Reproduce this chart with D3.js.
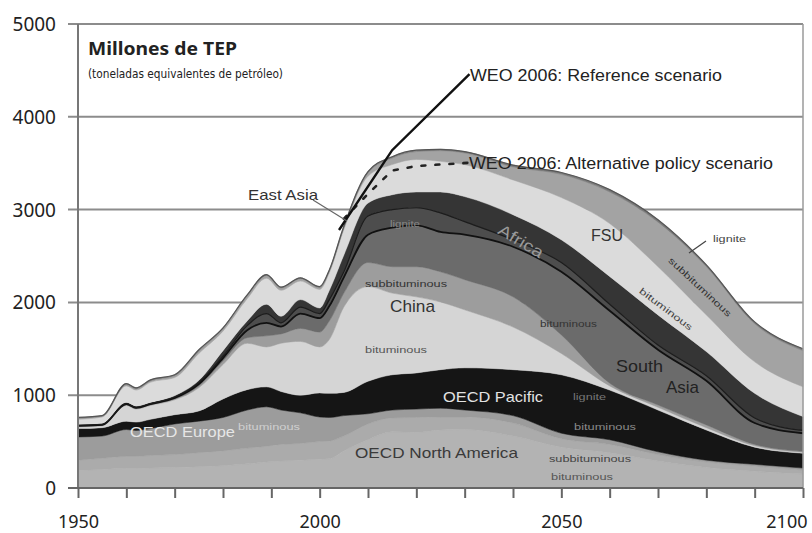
<!DOCTYPE html>
<html>
<head>
<meta charset="utf-8">
<script src="https://cdn.jsdelivr.net/npm/d3@7"></script>
<style>
  body { margin: 0; background: #fff; }
  svg { display: block; font-family: "Liberation Sans", Arial, sans-serif; }
</style>
</head>
<body>
<svg id="chart" width="812" height="533"></svg>
<script>
// years of the readings (history to 2005, projection after)
const years = [1950,1955,1960,1962,1965,1970,1975,1980,1985,1989,1992,1996,2000,2002,2005,2010,2015,2020,2025,2030,2040,2050,2060,2070,2080,2090,2100];

// layers, bottom to top (Mtoe)
const naBit     = [190,200,210,210,215,220,230,240,260,280,290,300,310,315,400,520,605,600,625,630,560,440,380,290,220,180,150];
const naSub     = [110,120,130,130,135,140,150,160,170,170,180,180,190,190,160,170,150,160,140,135,140,90,90,70,60,55,45];
const europe    = [250,240,290,280,290,330,340,360,410,425,370,330,265,255,220,110,85,90,95,75,80,60,50,30,20,20,20];
const pacific   = [90,90,90,90,100,100,110,200,220,215,200,190,260,260,250,350,380,390,415,455,495,630,535,450,325,185,160];
const chinaBit  = [20,20,170,140,150,160,250,370,500,430,520,580,495,580,920,1020,880,820,730,625,460,230,45,30,25,15,10];
const chinaSub  = [5,5,10,10,10,10,20,40,60,120,100,140,160,200,150,260,285,325,325,325,325,200,30,25,30,15,10];
const southAsia = [5,5,5,5,5,10,20,30,80,140,80,160,150,160,170,300,420,445,430,485,540,680,780,595,475,230,195];
const eastAsia  = [5,5,5,5,5,10,15,20,50,100,40,70,50,70,60,200,195,190,205,140,75,100,70,50,55,55,30];
const africa    = [10,10,10,10,10,15,25,60,50,100,70,80,60,100,180,140,160,170,225,270,270,245,300,325,260,265,150];
const fsuBit    = [55,70,180,175,220,195,290,210,240,280,280,200,200,190,275,290,325,350,330,345,375,455,570,520,395,340,320];
const fsuSub    = [12,10,15,15,15,20,25,25,30,30,25,25,20,20,20,35,70,85,115,125,140,250,340,480,520,410,390];
const fsuLig    = [8,5,10,10,10,10,15,10,10,10,10,10,10,10,15,15,15,15,15,15,20,20,25,25,20,20,20];

// WEO 2006 scenarios
const refYears = [2004, 2015, 2031];
const refValues = [2780, 3640, 4460];
const altYears = [2005, 2010, 2015, 2020, 2031];
const altValues = [2900, 3170, 3420, 3470, 3505];

const yTicks = [0, 1000, 2000, 3000, 4000, 5000];
const xTicks = d3.range(1950, 2101, 10);
const xLabels = [1950, 2000, 2050, 2100];

const layers = [
  { key: "naBit", values: naBit, color: "#b3b3b3" },
  { key: "naSub", values: naSub, color: "#ababab" },
  { key: "europe", values: europe, color: "#9c9c9c" },
  { key: "pacific", values: pacific, color: "#151515" },
  { key: "chinaBit", values: chinaBit, color: "#d5d5d5" },
  { key: "chinaSub", values: chinaSub, color: "#9d9d9d" },
  { key: "southAsia", values: southAsia, color: "#6b6b6b" },
  { key: "eastAsia", values: eastAsia, color: "#4d4d4d" },
  { key: "africa", values: africa, color: "#353535" },
  { key: "fsuBit", values: fsuBit, color: "#dbdbdb" },
  { key: "fsuSub", values: fsuSub, color: "#a3a3a3" },
  { key: "fsuLig", values: fsuLig, color: "#7c7c7c" }
];

const table = years.map((yr, i) => {
  const row = { year: yr };
  layers.forEach(l => { row[l.key] = l.values[i]; });
  return row;
});

const svg = d3.select("#chart");
const x = d3.scaleLinear().domain([1950, 2100]).range([78, 803]);
const y = d3.scaleLinear().domain([0, 5000]).range([488, 24]);

// grid
svg.append("g").selectAll("line").data(yTicks.slice(1)).join("line")
  .attr("x1", 68).attr("x2", 803)
  .attr("y1", d => y(d)).attr("y2", d => y(d))
  .attr("stroke", "#8c8c8c").attr("stroke-width", 2);

// stacked areas
const stack = d3.stack().keys(layers.map(l => l.key));
const series = stack(table);

const area = d3.area()
  .x(d => x(d.data.year))
  .y0(d => y(d[0]))
  .y1(d => y(d[1]))
  .curve(d3.curveMonotoneX);

svg.append("g").selectAll("path").data(series).join("path")
  .attr("d", area)
  .attr("fill", (d, i) => layers[i].color)
  .attr("stroke", (d, i) => layers[i].color)
  .attr("stroke-width", 0.5);

const edge = idx => d3.line()
  .x(d => x(d.data.year))
  .y(d => y(d[1]))
  .curve(d3.curveMonotoneX)(series[idx]);

// dark boundary lines
svg.append("path").attr("d", edge(6)).attr("fill", "none").attr("stroke", "#111").attr("stroke-width", 1.8);
svg.append("path").attr("d", edge(7)).attr("fill", "none").attr("stroke", "#1c1c1c").attr("stroke-width", 1.2);
svg.append("path").attr("d", edge(11)).attr("fill", "none").attr("stroke", "#555").attr("stroke-width", 1.2);

// scenarios
const scen = d3.line().x(d => x(d[0])).y(d => y(d[1]));
svg.append("path")
  .attr("d", scen(altYears.map((v, i) => [v, altValues[i]])))
  .attr("fill", "none").attr("stroke", "#222").attr("stroke-width", 2.6)
  .attr("stroke-dasharray", "4,10").attr("stroke-linecap", "round");
svg.append("path")
  .attr("d", scen(refYears.map((v, i) => [v, refValues[i]])))
  .attr("fill", "none").attr("stroke", "#111").attr("stroke-width", 2.4);

// leader lines
svg.append("line").attr("x1", 313).attr("y1", 200).attr("x2", 347).attr("y2", 221)
  .attr("stroke", "#666").attr("stroke-width", 1.2);
svg.append("line").attr("x1", 689).attr("y1", 253).attr("x2", 706).attr("y2", 241)
  .attr("stroke", "#444").attr("stroke-width", 1.2);

// in-chart labels
const labels = [
  { t: "WEO 2006: Reference scenario", x: 470, y: 81, s: 16, len: 252, c: "#222" },
  { t: "WEO 2006: Alternative policy scenario", x: 469, y: 169, s: 16, len: 304, c: "#222" },
  { t: "East Asia", x: 248, y: 200, s: 15, len: 70, c: "#333" },
  { t: "lignite", x: 390, y: 227, s: 9, len: 30, c: "#888" },
  { t: "FSU", x: 591, y: 241, s: 16, len: 32, c: "#333" },
  { t: "lignite", x: 713, y: 242, s: 9, len: 33, c: "#444" },
  { t: "subbituminous", x: 365, y: 287, s: 9, len: 82, c: "#333" },
  { t: "China", x: 390, y: 312, s: 17, len: 45, c: "#333" },
  { t: "bituminous", x: 365, y: 353, s: 9, len: 62, c: "#555" },
  { t: "bituminous", x: 540, y: 327, s: 9, len: 57, c: "#333" },
  { t: "South", x: 616, y: 372, s: 17, len: 47, c: "#222" },
  { t: "Asia", x: 666, y: 393, s: 17, len: 33, c: "#222" },
  { t: "OECD Pacific", x: 443, y: 402, s: 15, len: 100, c: "#e2e2e2" },
  { t: "lignite", x: 573, y: 400, s: 9, len: 33, c: "#777" },
  { t: "bituminous", x: 574, y: 430, s: 9, len: 62, c: "#8a8a8a" },
  { t: "OECD North America", x: 355, y: 458, s: 15, len: 163, c: "#3a3a3a" },
  { t: "subbituminous", x: 549, y: 462, s: 9, len: 82, c: "#444" },
  { t: "bituminous", x: 551, y: 480, s: 9, len: 62, c: "#555" },
  { t: "OECD Europe", x: 130, y: 437, s: 15, len: 105, c: "#e6e6e6" },
  { t: "bituminous", x: 238, y: 430, s: 9, len: 62, c: "#d0d0d0" }
];
svg.append("g").selectAll("text").data(labels).join("text")
  .attr("x", d => d.x).attr("y", d => d.y)
  .attr("font-size", d => d.s).attr("fill", d => d.c)
  .attr("textLength", d => d.len).attr("lengthAdjust", "spacingAndGlyphs")
  .text(d => d.t);

// rotated labels
const rotLabels = [
  { t: "Africa", cx: 521, cy: 241, a: 31, s: 16, len: 50, c: "#9a9a9a" },
  { t: "subbituminous", cx: 700, cy: 287, a: 43, s: 9, len: 82, c: "#333" },
  { t: "bituminous", cx: 666, cy: 309, a: 37, s: 9, len: 64, c: "#444" }
];
svg.append("g").selectAll("text").data(rotLabels).join("text")
  .attr("transform", d => `translate(${d.cx},${d.cy}) rotate(${d.a})`)
  .attr("text-anchor", "middle").attr("dy", "0.35em")
  .attr("font-size", d => d.s).attr("fill", d => d.c)
  .attr("textLength", d => d.len).attr("lengthAdjust", "spacingAndGlyphs")
  .text(d => d.t);

// frame
svg.append("line").attr("x1", 803).attr("x2", 803).attr("y1", y(5000)).attr("y2", y(0))
  .attr("stroke", "#9a9a9a").attr("stroke-width", 1.5);
svg.append("line").attr("x1", 78).attr("x2", 78).attr("y1", y(5000)).attr("y2", y(0))
  .attr("stroke", "#777").attr("stroke-width", 2);

// x axis
const xAxis = d3.axisBottom(x).tickValues(xTicks).tickSize(10)
  .tickFormat(d => xLabels.includes(d) ? d : "");
const gx = svg.append("g").attr("transform", `translate(0,${y(0)})`).call(xAxis);
gx.select(".domain").remove();
gx.selectAll(".tick line").attr("stroke", "#666").attr("stroke-width", 2);
gx.selectAll(".tick text")
  .attr("font-family", "'Noto Sans', sans-serif").attr("font-size", 18).attr("fill", "#222")
  .attr("y", 27)
  .attr("text-anchor", d => d === 2100 ? "end" : "middle")
  .attr("dx", d => d === 2100 ? 4 : 0);
svg.append("line").attr("x1", 68).attr("x2", 803).attr("y1", y(0)).attr("y2", y(0))
  .attr("stroke", "#666").attr("stroke-width", 2);

// y axis labels
svg.append("g").selectAll("text").data(yTicks).join("text")
  .attr("x", 56).attr("y", d => y(d) + 7)
  .attr("text-anchor", "end")
  .attr("font-family", "'Noto Sans', sans-serif").attr("font-size", 19).attr("fill", "#222")
  .text(d => d);

// title
svg.append("text").attr("x", 88).attr("y", 55)
  .attr("font-family", "'Noto Sans', sans-serif").attr("font-weight", "bold")
  .attr("font-size", 18.5).attr("fill", "#222")
  .attr("textLength", 149).attr("lengthAdjust", "spacingAndGlyphs")
  .text("Millones de TEP");
svg.append("text").attr("x", 88).attr("y", 78)
  .attr("font-family", "'DejaVu Sans Condensed', 'Noto Sans', sans-serif")
  .attr("font-size", 13).attr("fill", "#222")
  .attr("textLength", 195).attr("lengthAdjust", "spacingAndGlyphs")
  .text("(toneladas equivalentes de petróleo)");
</script>
</body>
</html>
